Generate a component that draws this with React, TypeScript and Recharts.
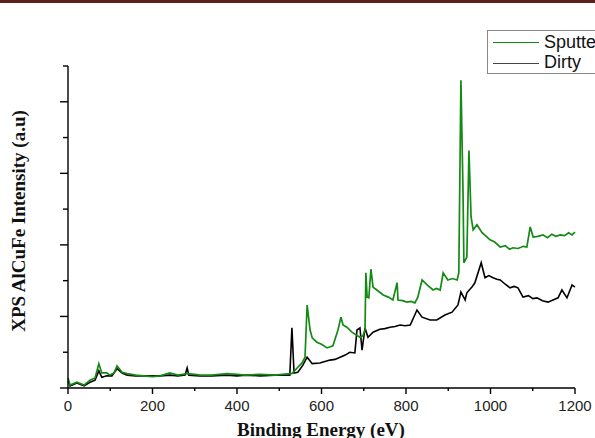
import React from "react";
import { LineChart, Line, XAxis, YAxis } from "recharts";

// XPS survey spectra, binding energy (eV) vs intensity (a.u.)
const sputteredEnergy = [
  0, 5, 21, 38, 52, 64, 73, 80, 92, 99, 109, 116, 128, 140, 160, 178, 200, 218, 241, 260,
  282, 300, 312, 340, 376, 400, 420, 454, 490, 525, 530, 544, 554, 561, 566, 573, 578, 589,
  600, 613, 627, 639, 646, 651, 660, 672, 691, 698, 703, 705, 708, 712, 717, 722, 731, 746,
  758, 769, 779, 781, 792, 802, 812, 821, 828, 838, 850, 864, 872, 881, 888, 899, 910, 921,
  925, 930, 935, 937, 944, 949, 954, 959, 968, 980, 992, 999, 1010, 1023, 1035, 1045, 1053,
  1065, 1078, 1086, 1094, 1101, 1112, 1124, 1135, 1145, 1155, 1165, 1175, 1185, 1193, 1200,
];
const sputteredCounts = [
  0.14, 0.04, 0.08, 0.04, 0.11, 0.14, 0.34, 0.21, 0.21, 0.18, 0.21, 0.31, 0.22, 0.2, 0.18, 0.17, 0.16, 0.17, 0.21, 0.18,
  0.2, 0.19, 0.18, 0.18, 0.2, 0.19, 0.18, 0.19, 0.18, 0.2, 0.2, 0.29, 0.35, 0.43, 1.16, 0.81, 0.7, 0.64,
  0.61, 0.56, 0.59, 0.81, 0.99, 0.88, 0.85, 0.78, 0.71, 0.73, 0.81, 1.61, 1.27, 1.26, 1.66, 1.41, 1.37, 1.3,
  1.27, 1.23, 1.47, 1.23, 1.22, 1.2, 1.21, 1.19, 1.27, 1.51, 1.44, 1.37, 1.39, 1.37, 1.61, 1.51, 1.53, 1.51,
  1.61, 4.3, 2.72, 1.75, 1.83, 3.32, 2.39, 2.21, 2.28, 2.17, 2.11, 2.07, 2.04, 1.97, 1.99, 1.94, 1.96,
  1.95, 1.98, 1.97, 2.25, 2.11, 2.12, 2.14, 2.1, 2.15, 2.12, 2.14, 2.13, 2.17, 2.14, 2.18,
];

const dirtyEnergy = [
  0, 5, 21, 38, 52, 64, 73, 80, 92, 104, 116, 128, 140, 160, 178, 200, 218, 241, 260, 277,
  282, 286, 312, 340, 376, 400, 420, 454, 490, 525, 530, 535, 544, 556, 566, 578, 596, 608,
  620, 632, 644, 656, 667, 679, 684, 691, 696, 703, 710, 722, 738, 750, 762, 774, 786, 798,
  810, 826, 838, 857, 873, 892, 909, 923, 930, 940, 944, 956, 963, 978, 987, 996, 1006, 1015,
  1023, 1035, 1046, 1056, 1065, 1077, 1090, 1100, 1110, 1123, 1136, 1148, 1160, 1169, 1181,
  1193, 1200,
];
const dirtyCounts = [
  0.1, 0.03, 0.07, 0.03, 0.08, 0.11, 0.24, 0.15, 0.17, 0.17, 0.27, 0.21, 0.18, 0.17, 0.17, 0.17, 0.17, 0.18, 0.17, 0.18,
  0.28, 0.18, 0.17, 0.17, 0.18, 0.17, 0.18, 0.17, 0.18, 0.18, 0.84, 0.21, 0.22, 0.32, 0.43, 0.34, 0.35, 0.37,
  0.39, 0.4, 0.43, 0.46, 0.5, 0.49, 0.81, 0.84, 0.53, 0.84, 0.71, 0.78, 0.82, 0.83, 0.85, 0.86, 0.88, 0.87,
  0.88, 1.09, 0.99, 0.95, 0.95, 1.02, 1.06, 1.16, 1.34, 1.23, 1.33, 1.41, 1.47, 1.75, 1.54, 1.57, 1.54, 1.52,
  1.51, 1.45, 1.4, 1.42, 1.4, 1.27, 1.29, 1.25, 1.26, 1.22, 1.2, 1.23, 1.26, 1.37, 1.26,
  1.44, 1.41,
];

const xTicks = [0, 100, 200, 300, 400, 500, 600, 700, 800, 900, 1000, 1100, 1200];
const yTicks = [0, 0.5, 1, 1.5, 2, 2.5, 3, 3.5, 4, 4.5];

const sputtered = sputteredEnergy.map((e, i) => ({ e, v: sputteredCounts[i] }));
const dirty = dirtyEnergy.map((e, i) => ({ e, v: dirtyCounts[i] }));

const GREEN = "#138a13";

function XTick({ x, y, payload }: any) {
  const major = payload.value % 200 === 0;
  return (
    <g>
      <line x1={x} x2={x} y1={y} y2={y + (major ? 6 : 3)} stroke="#000" strokeWidth={1.4} />
      {major && (
        <text
          x={x}
          y={y + 23}
          textAnchor="middle"
          fontFamily="'Liberation Sans', Arial, sans-serif"
          fontSize={15}
          fill="#222"
        >
          {payload.value}
        </text>
      )}
    </g>
  );
}

function YTick({ x, y, payload }: any) {
  const major = Number.isInteger(payload.value);
  return <line x1={x} x2={x - (major ? 8 : 5)} y1={y} y2={y} stroke="#000" strokeWidth={1.4} />;
}

export default function App() {
  return (
    <div
      style={{
        position: "absolute",
        left: 0,
        top: 0,
        width: 595,
        height: 438,
        overflow: "hidden",
        background: "#fff",
      }}
    >
      <div style={{ position: "absolute", left: 0, top: 0, width: 595, height: 3, background: "#5c1f1f" }} />
      <LineChart width={595} height={438} margin={{ top: 66, right: 20, bottom: 0, left: 0 }}>
        <XAxis
          dataKey="e"
          type="number"
          domain={[0, 1200]}
          ticks={xTicks}
          interval={0}
          height={50}
          tickSize={0}
          tickMargin={0}
          tickLine={false}
          tick={<XTick />}
          axisLine={{ stroke: "#000", strokeWidth: 1.4 }}
          allowDuplicatedCategory={false}
        />
        <YAxis
          type="number"
          domain={[0, 4.5]}
          ticks={yTicks}
          interval={0}
          width={68}
          tickSize={0}
          tickMargin={0}
          tickLine={false}
          tick={<YTick />}
          axisLine={{ stroke: "#000", strokeWidth: 1.4 }}
        />
        <Line
          data={dirty}
          dataKey="v"
          type="linear"
          stroke="#000"
          strokeWidth={1.6}
          dot={false}
          isAnimationActive={false}
        />
        <Line
          data={sputtered}
          dataKey="v"
          type="linear"
          stroke={GREEN}
          strokeWidth={1.7}
          dot={false}
          isAnimationActive={false}
        />
      </LineChart>
      <div
        style={{
          position: "absolute",
          left: 487,
          top: 30,
          width: 130,
          height: 42,
          border: "1px solid #888",
          background: "#fff",
          fontFamily: "'Liberation Sans', Arial, sans-serif",
          fontSize: 18,
          color: "#111",
        }}
      >
        <div style={{ position: "absolute", left: 5, top: 11, width: 46, height: 1.3, background: GREEN }} />
        <div style={{ position: "absolute", left: 56, top: 1, lineHeight: "20px" }}>Sputtered</div>
        <div style={{ position: "absolute", left: 5, top: 32, width: 46, height: 1.3, background: "#444" }} />
        <div style={{ position: "absolute", left: 56, top: 21, lineHeight: "20px" }}>Dirty</div>
      </div>
      <div
        style={{
          position: "absolute",
          left: 321,
          top: 430,
          transform: "translate(-50%, -50%)",
          whiteSpace: "nowrap",
          fontFamily: "'Liberation Serif', 'Times New Roman', serif",
          fontWeight: "bold",
          fontSize: 19,
          color: "#111",
        }}
      >
        Binding Energy (eV)
      </div>
      <div
        style={{
          position: "absolute",
          left: 19,
          top: 221,
          transform: "translate(-50%, -50%) rotate(-90deg)",
          whiteSpace: "nowrap",
          fontFamily: "'Liberation Serif', 'Times New Roman', serif",
          fontWeight: "bold",
          fontSize: 19,
          color: "#111",
        }}
      >
        XPS AlCuFe Intensity (a.u)
      </div>
    </div>
  );
}
